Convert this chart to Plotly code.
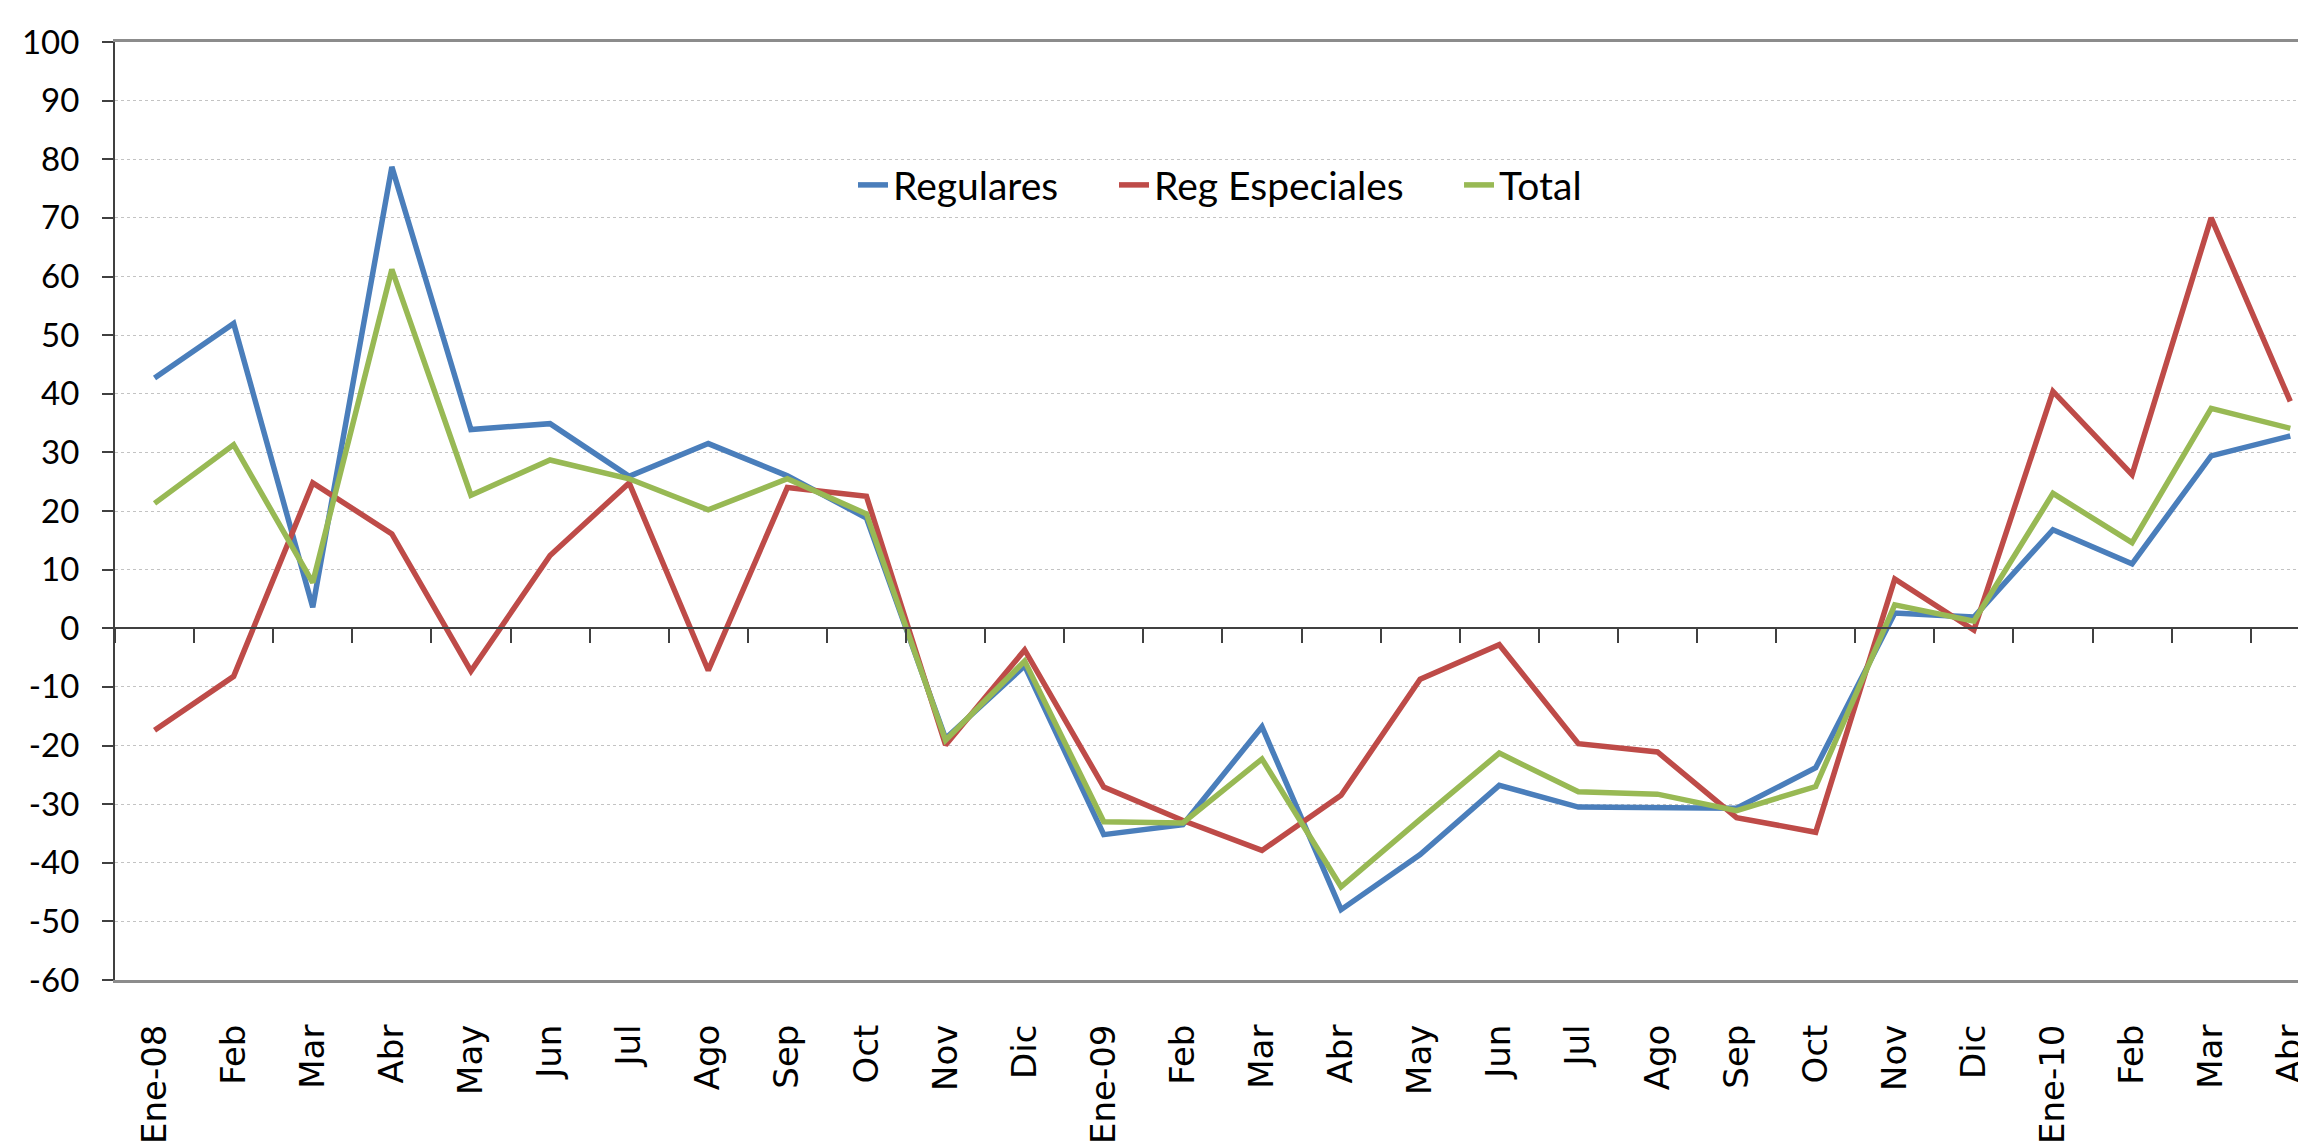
import plotly.graph_objects as go

categories = ["Ene-08", "Feb", "Mar", "Abr", "May", "Jun", "Jul", "Ago", "Sep", "Oct", "Nov", "Dic",
              "Ene-09", "Feb", "Mar", "Abr", "May", "Jun", "Jul", "Ago", "Sep", "Oct", "Nov", "Dic",
              "Ene-10", "Feb", "Mar", "Abr"]

regulares = [42.7, 52.0, 3.6, 78.7, 33.9, 34.9, 25.9, 31.5, 26.0, 18.8, -18.8, -6.4,
             -35.2, -33.5, -16.8, -48.0, -38.6, -26.8, -30.5, -30.5, -30.7, -23.8, 2.6, 1.9,
             16.8, 11.0, 29.4, 32.8]
reg_especiales = [-17.4, -8.2, 24.8, 16.1, -7.3, 12.4, 24.8, -7.2, 24.0, 22.5, -19.9, -3.7,
                  -27.1, -32.8, -37.9, -28.5, -8.7, -2.8, -19.7, -21.1, -32.3, -34.8, 8.4, -0.3,
                  40.4, 26.2, 70.0, 38.7]
total = [21.3, 31.3, 7.8, 61.2, 22.7, 28.7, 25.5, 20.2, 25.5, 19.5, -19.1, -5.6,
         -33.0, -33.2, -22.3, -44.1, -32.6, -21.3, -27.9, -28.3, -31.1, -27.0, 4.0, 1.2,
         23.0, 14.6, 37.5, 34.1]

series_names = ["Regulares", "Reg Especiales", "Total"]
series_colors = ["#4A7EBB", "#BE4B48", "#98B954"]
legend_ids = ["legend", "legend2", "legend3"]
legend_x = [0.3356, 0.4543, 0.6112]

y_ticks = list(range(-60, 101, 10))

x_idx = list(range(len(categories)))
boundaries = [i - 0.5 for i in range(len(categories) + 1)]
x_range = [-0.5, len(categories) - 0.7]

fig = go.Figure()
for name, vals, col, lid in zip(series_names, [regulares, reg_especiales, total], series_colors, legend_ids):
    fig.add_trace(go.Scatter(x=x_idx, y=vals, mode="lines", name=name, legend=lid,
                             line=dict(color=col, width=5.5)))

# invisible trace so the zero-line axis renders
fig.add_trace(go.Scatter(x=[None], y=[None], xaxis="x2", showlegend=False, hoverinfo="skip"))

legend_common = dict(orientation="h", y=0.8475, yanchor="middle", xanchor="left",
                     bgcolor="rgba(0,0,0,0)",
                     font=dict(family="Lato", size=39, color="black"))

fig.update_layout(
    width=2306, height=1141,
    margin=dict(l=107, r=0, t=34, b=169, autoexpand=False),
    plot_bgcolor="white", paper_bgcolor="white",
    showlegend=True,
    legend=dict(x=legend_x[0], **legend_common),
    legend2=dict(x=legend_x[1], **legend_common),
    legend3=dict(x=legend_x[2], **legend_common),
    shapes=[dict(type="rect", xref="paper", yref="paper", x0=0.3097, x1=0.6798,
                 y0=0.8156, y1=0.890, fillcolor="white", line=dict(width=0), layer="between")],
    xaxis=dict(range=x_range, tickmode="array", tickvals=x_idx, ticktext=categories,
               tickangle=-90, ticks="", showgrid=False, zeroline=False,
               showline=True, linecolor="#8C8C8C", linewidth=3, mirror=True,
               tickfont=dict(family="DejaVu Sans", size=34, color="black"),
               ticklabelstandoff=28, ticklabeloverflow="allow", automargin=False),
    xaxis2=dict(overlaying="x", anchor="free", position=60 / 160, side="bottom",
                range=x_range, tickmode="array", tickvals=boundaries,
                showticklabels=False, ticks="outside", ticklen=14, tickwidth=2,
                tickcolor="#404040", showline=True, linecolor="#404040", linewidth=2,
                showgrid=False, zeroline=False),
    yaxis=dict(range=[-60, 100], tickmode="array", tickvals=y_ticks,
               ticktext=[str(v) for v in y_ticks],
               showgrid=True, gridcolor="#C3C3C3", griddash="dot", gridwidth=1,
               zeroline=False, showline=True, linecolor="#404040", linewidth=2,
               ticks="outside", ticklen=11, tickwidth=2, tickcolor="#404040",
               tickfont=dict(family="Lato", size=33, color="black"),
               ticklabelstandoff=16, automargin=False),
)

fig.write_html("out.html")
